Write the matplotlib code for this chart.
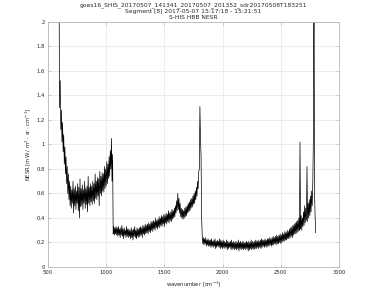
#!/usr/bin/env python3
"""S-HIS HBB NESR spectrum, MATLAB-style figure"""

import numpy as np
import matplotlib
matplotlib.use('Agg')
import matplotlib.pyplot as plt

title_lines = ['goes16_SHIS_20170507_141341_20170507_201352_sdr20170508T183251',
               'Segment [8] 2017-05-07 15:17:18 - 15:21:51',
               'S-HIS HBB NESR']

# wavenumber grids: 590..2800 and 595..2795 cm-1, 10 cm-1 steps each
wn_lo = np.arange(590, 2801, 10)
wn_hi = np.arange(595, 2796, 10)

# lower edge of the noisy NESR band, read at 590, 600, ...
nesr_lo = [
    2.60, 1.30, 1.12, 1.02, 0.94, 0.84, 0.76, 0.68, 0.60, 0.55,   # 590
    0.50, 0.48, 0.52, 0.44, 0.50, 0.47, 0.52, 0.46, 0.40, 0.49,   # 690
    0.50, 0.47, 0.52, 0.48, 0.51, 0.45, 0.52, 0.50, 0.53, 0.51,   # 790
    0.54, 0.52, 0.56, 0.55, 0.58, 0.50, 0.60, 0.58, 0.62, 0.61,   # 890
    0.64, 0.66, 0.68, 0.72, 0.74, 0.80, 0.70, 0.27, 0.26, 0.27,   # 990
    0.26, 0.25, 0.26, 0.24, 0.26, 0.25, 0.23, 0.26, 0.24, 0.25,   # 1090
    0.24, 0.25, 0.23, 0.24, 0.22, 0.25, 0.24, 0.23, 0.25, 0.24,   # 1190
    0.25, 0.26, 0.24, 0.27, 0.26, 0.27, 0.28, 0.27, 0.29, 0.28,   # 1290
    0.30, 0.29, 0.31, 0.30, 0.32, 0.31, 0.33, 0.32, 0.34, 0.33,   # 1390
    0.35, 0.33, 0.36, 0.35, 0.37, 0.36, 0.38, 0.37, 0.39, 0.40,   # 1490
    0.41, 0.44, 0.46, 0.47, 0.44, 0.41, 0.40, 0.39, 0.40, 0.41,   # 1590
    0.42, 0.44, 0.45, 0.46, 0.48, 0.49, 0.51, 0.52, 0.55, 0.58,   # 1690
    0.64, 0.80, 1.05, 0.40, 0.19, 0.18, 0.19, 0.17, 0.18, 0.17,   # 1790
    0.17, 0.16, 0.17, 0.16, 0.17, 0.15, 0.16, 0.17, 0.16, 0.15,   # 1890
    0.16, 0.15, 0.16, 0.15, 0.16, 0.14, 0.15, 0.16, 0.15, 0.14,   # 1990
    0.15, 0.14, 0.15, 0.14, 0.15, 0.13, 0.15, 0.14, 0.15, 0.14,   # 2090
    0.15, 0.14, 0.15, 0.13, 0.14, 0.15, 0.14, 0.15, 0.14, 0.15,   # 2190
    0.15, 0.16, 0.15, 0.16, 0.15, 0.16, 0.17, 0.16, 0.17, 0.16,   # 2290
    0.17, 0.17, 0.18, 0.17, 0.18, 0.18, 0.19, 0.18, 0.19, 0.19,   # 2390
    0.20, 0.19, 0.20, 0.21, 0.21, 0.22, 0.22, 0.23, 0.23, 0.24,   # 2490
    0.25, 0.24, 0.26, 0.27, 0.27, 0.28, 0.29, 0.30, 0.31, 0.30,   # 2590
    0.33, 0.34, 0.36, 0.38, 0.37, 0.40, 0.42, 0.45, 0.50, 1.05,   # 2690
    0.60, 0.28,                                                   # 2790
]

# upper edge of the noisy NESR band, read at 595, 605, ...
nesr_hi = [
    2.20, 1.52, 1.28, 1.18, 1.08, 0.98, 0.90, 0.82, 0.76, 0.70,   # 595
    0.66, 0.63, 0.70, 0.64, 0.66, 0.62, 0.68, 0.65, 0.72, 0.64,   # 695
    0.67, 0.63, 0.70, 0.64, 0.66, 0.74, 0.65, 0.68, 0.66, 0.70,   # 795
    0.68, 0.76, 0.70, 0.73, 0.72, 0.78, 0.74, 0.77, 0.76, 0.82,   # 895
    0.80, 0.86, 0.84, 0.90, 0.95, 1.05, 0.92, 0.33, 0.32, 0.33,   # 995
    0.32, 0.33, 0.31, 0.32, 0.34, 0.31, 0.32, 0.30, 0.33, 0.31,   # 1095
    0.31, 0.30, 0.32, 0.30, 0.31, 0.33, 0.30, 0.32, 0.31, 0.32,   # 1195
    0.33, 0.32, 0.34, 0.33, 0.35, 0.34, 0.35, 0.36, 0.35, 0.37,   # 1295
    0.37, 0.38, 0.37, 0.40, 0.38, 0.39, 0.41, 0.40, 0.42, 0.41,   # 1395
    0.43, 0.42, 0.44, 0.43, 0.46, 0.44, 0.45, 0.47, 0.46, 0.48,   # 1495
    0.50, 0.54, 0.60, 0.56, 0.52, 0.48, 0.47, 0.46, 0.48, 0.49,   # 1595
    0.50, 0.52, 0.53, 0.55, 0.56, 0.58, 0.60, 0.62, 0.65, 0.70,   # 1695
    0.78, 1.31, 0.90, 0.25, 0.24, 0.23, 0.24, 0.22, 0.23, 0.22,   # 1795
    0.22, 0.23, 0.21, 0.22, 0.23, 0.21, 0.22, 0.21, 0.23, 0.22,   # 1895
    0.21, 0.22, 0.21, 0.20, 0.22, 0.21, 0.20, 0.21, 0.22, 0.20,   # 1995
    0.21, 0.20, 0.21, 0.20, 0.22, 0.20, 0.21, 0.20, 0.21, 0.20,   # 2095
    0.20, 0.21, 0.20, 0.21, 0.20, 0.22, 0.21, 0.20, 0.21, 0.22,   # 2195
    0.21, 0.22, 0.21, 0.22, 0.23, 0.22, 0.22, 0.23, 0.22, 0.23,   # 2295
    0.23, 0.24, 0.23, 0.24, 0.25, 0.24, 0.25, 0.26, 0.25, 0.26,   # 2395
    0.27, 0.26, 0.28, 0.27, 0.29, 0.28, 0.30, 0.29, 0.31, 0.32,   # 2495
    0.33, 0.34, 0.35, 0.36, 0.37, 0.38, 0.40, 1.02, 0.42, 0.40,   # 2595
    0.45, 0.50, 0.48, 0.82, 0.52, 0.55, 0.58, 0.62, 0.70, 2.60,   # 2695
    0.40,                                                         # 2795
]

x_ticks = [500, 1000, 1500, 2000, 2500, 3000]
y_ticks = [0, 0.2, 0.4, 0.6, 0.8, 1, 1.2, 1.4, 1.6, 1.8, 2]
y_tick_labels = ['0', '0.2', '0.4', '0.6', '0.8', '1', '1.2', '1.4', '1.6', '1.8', '2']

# interleave the two reads so the line zig-zags across the noise band
wn_all = np.empty(len(wn_lo) + len(wn_hi))
nesr_all = np.empty_like(wn_all)
wn_all[0::2] = wn_lo
wn_all[1::2] = wn_hi
nesr_all[0::2] = nesr_lo
nesr_all[1::2] = nesr_hi

fig = plt.figure(figsize=(3.75, 3.01), dpi=100)
ax = fig.add_axes([0.128, 0.113, 0.776, 0.814])

ax.plot(wn_all, nesr_all, color='black', linewidth=0.5)

ax.set_xlim(500, 3000)
ax.set_ylim(0, 2)
ax.set_xticks(x_ticks)
ax.set_yticks(y_ticks)
ax.set_yticklabels(y_tick_labels)
ax.grid(True, color='#e6e6e6', linewidth=0.5)
ax.set_axisbelow(True)

for s in ax.spines.values():
    s.set_color('#b8b8b8')
    s.set_linewidth(0.6)
ax.tick_params(direction='in', length=2, width=0.5, color='#b8b8b8',
               labelsize=3.8, labelcolor='#262626', pad=2,
               top=True, right=True)

ax.set_xlabel(r'wavenumber [cm$^{-1}$]', fontsize=3.8, color='#262626', labelpad=3)
ax.set_ylabel(r'NESR [mW / m$^2$ $\cdot$ sr $\cdot$ cm$^{-1}$]', fontsize=3.8,
              color='#262626', labelpad=3)
ax.set_title('\n'.join(title_lines), fontsize=4.3, color='#262626',
             linespacing=1.25, pad=2)

fig.savefig('out.png', dpi=100)
